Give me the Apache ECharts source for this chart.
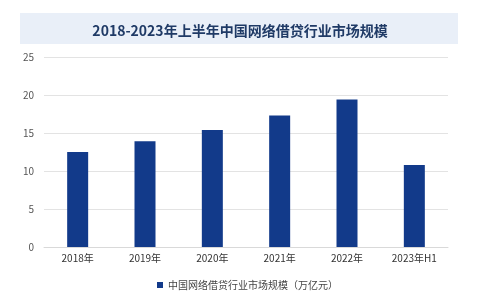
<!DOCTYPE html>
<html>
<head>
<meta charset="utf-8">
<script src="https://cdn.jsdelivr.net/npm/echarts@6/dist/echarts.min.js"></script>
<style>html,body{margin:0;padding:0;background:#fff}#c{width:480px;height:300px}</style>
</head>
<body>
<div id="c"></div>
<script>
var titleText = '2018-2023年上半年中国网络借贷行业市场规模';
var categories = ['2018年', '2019年', '2020年', '2021年', '2022年', '2023年H1'];
var seriesName = '中国网络借贷行业市场规模（万亿元）';
var values = [12.5, 13.9, 15.4, 17.3, 19.4, 10.8];
var yMin = 0, yMax = 25, yStep = 5;

var chart = echarts.init(document.getElementById('c'), null, {renderer: 'canvas'});
chart.setOption({
  backgroundColor: '#ffffff',
  animation: false,
  graphic: [{
    type: 'rect',
    shape: {x: 20, y: 13, width: 438, height: 31},
    style: {fill: '#e9eff8'},
    z: 0
  }],
  title: {
    text: titleText,
    left: 'center',
    top: 19,
    textStyle: {
      fontFamily: 'Noto Sans CJK SC',
      fontWeight: 'bold',
      fontSize: 14,
      color: '#1f3a66'
    }
  },
  grid: {left: 44, right: 32, top: 57, bottom: 53},
  legend: {
    data: [seriesName],
    left: 152,
    top: 275,
    icon: 'rect',
    itemWidth: 6,
    itemHeight: 6,
    itemGap: 4,
    textStyle: {fontFamily: 'Noto Sans CJK SC', fontSize: 10, color: '#444'}
  },
  xAxis: {
    type: 'category',
    data: categories,
    axisLine: {show: true, lineStyle: {color: '#d9d9d9'}},
    axisTick: {show: false},
    axisLabel: {fontFamily: 'Noto Sans CJK SC', fontSize: 10, color: '#333', margin: 6}
  },
  yAxis: {
    type: 'value',
    min: yMin,
    max: yMax,
    interval: yStep,
    axisLine: {show: false},
    axisTick: {show: false},
    splitLine: {lineStyle: {color: '#e3e3e3'}},
    axisLabel: {fontFamily: 'Noto Sans CJK SC', fontSize: 10, color: '#555', margin: 10}
  },
  series: [{
    name: seriesName,
    type: 'bar',
    data: values,
    barWidth: 21,
    itemStyle: {color: '#123a8a'}
  }]
});
</script>
</body>
</html>
